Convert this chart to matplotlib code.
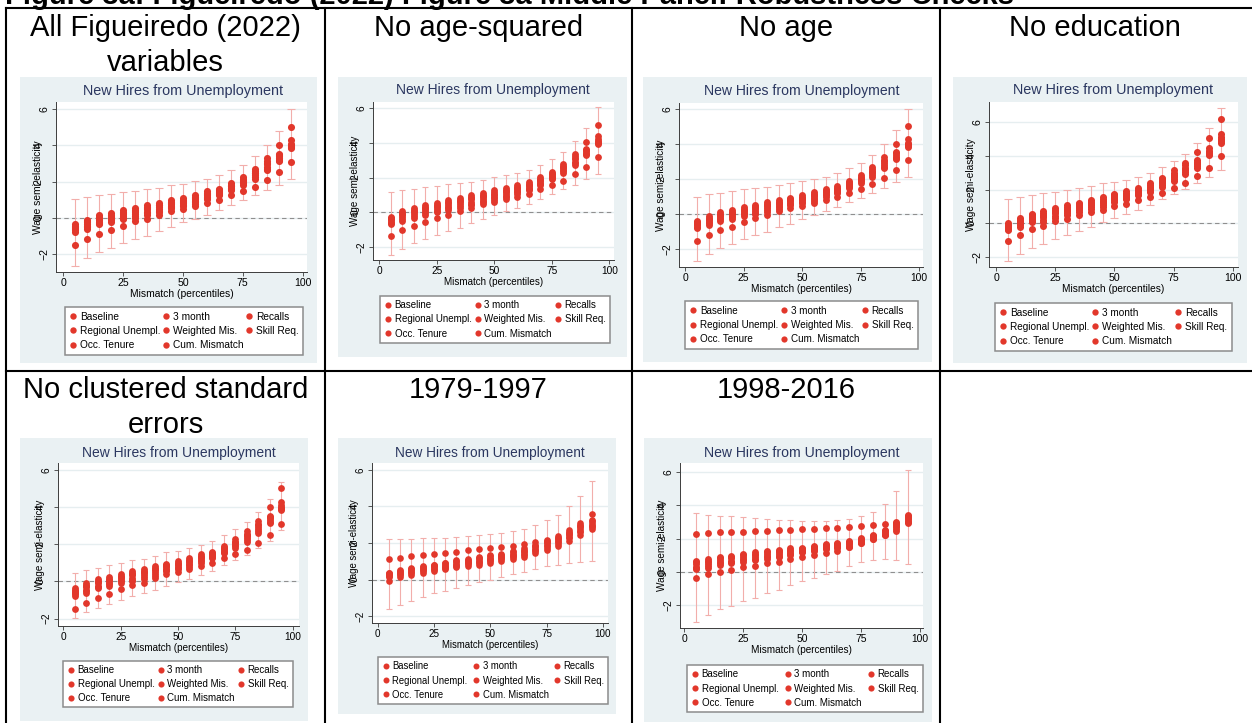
import numpy as np
import matplotlib
matplotlib.use("Agg")
import matplotlib.pyplot as plt
from matplotlib.lines import Line2D
from matplotlib.patches import Rectangle
from matplotlib.transforms import ScaledTranslation

plt.rcParams['font.family'] = ['Liberation Sans', 'DejaVu Sans']

W, H = 1252, 723

# mismatch percentiles on the x axis
pct = [5, 10, 15, 20, 25, 30, 35, 40, 45, 50, 55, 60, 65, 70, 75, 80, 85, 90, 95]
x_ticks = [0, 25, 50, 75, 100]
y_ticks = [-2, 0, 2, 4, 6]
# legend labels, in the row order they show in the Stata legend
series_names = ["Baseline", "3 month", "Recalls",
                "Regional Unempl.", "Weighted Mis.", "Skill Req.",
                "Occ. Tenure", "Cum. Mismatch"]
cell_titles = [["All Figueiredo (2022)", "variables"], ["No age-squared"], ["No age"], ["No education"],
               ["No clustered standard", "errors"], ["1979-1997"], ["1998-2016"]]

# --- all Figueiredo variables (also used for "No age" and "No clustered SE") ---
full_baseline = [-0.70, -0.45, -0.22, -0.08, 0.08, 0.20, 0.34, 0.49, 0.66, 0.80, 0.95, 1.15, 1.35, 1.65, 1.95, 2.35, 2.80, 3.30, 3.95]
full_3month = [-0.45, -0.20, 0.03, 0.15, 0.30, 0.45, 0.58, 0.72, 0.86, 0.98, 1.16, 1.36, 1.52, 1.82, 2.15, 2.58, 3.12, 3.54, 4.30]
full_recalls = [-0.57, -0.32, -0.10, 0.05, 0.20, 0.33, 0.47, 0.62, 0.77, 0.88, 1.05, 1.26, 1.43, 1.73, 2.05, 2.45, 2.95, 3.42, 4.02]
full_regional = [-0.62, -0.50, -0.28, -0.15, 0.00, 0.10, 0.24, 0.40, 0.60, 0.72, 0.88, 1.10, 1.30, 1.60, 1.90, 2.25, 2.72, 3.22, 3.90]
full_weighted = [-0.80, -0.61, -0.37, -0.24, -0.09, 0.00, 0.13, 0.31, 0.54, 0.65, 0.78, 1.02, 1.24, 1.52, 1.80, 2.13, 2.63, 3.15, 3.87]
full_skill = [-0.50, -0.26, -0.03, 0.10, 0.25, 0.40, 0.52, 0.68, 0.82, 0.94, 1.10, 1.32, 1.48, 1.78, 2.10, 2.50, 3.05, 3.48, 4.10]
full_tenure = [-1.50, -1.17, -0.89, -0.69, -0.43, -0.20, -0.06, 0.17, 0.39, 0.50, 0.65, 0.83, 0.98, 1.24, 1.46, 1.72, 2.09, 2.52, 3.11]
full_cum = [-0.37, -0.11, 0.13, 0.26, 0.41, 0.54, 0.69, 0.83, 0.96, 1.09, 1.28, 1.46, 1.61, 1.93, 2.26, 2.72, 3.28, 4.00, 5.02]
full_lo = [-2.65, -2.24, -1.91, -1.69, -1.41, -1.19, -1.02, -0.74, -0.52, -0.24, -0.06, 0.17, 0.41, 0.72, 0.96, 1.24, 1.52, 1.83, 2.13]
full_hi = [1.02, 1.15, 1.24, 1.33, 1.43, 1.50, 1.57, 1.67, 1.80, 1.89, 2.02, 2.15, 2.35, 2.65, 2.94, 3.41, 4.02, 4.81, 6.00]
noclus_lo = [-1.97, -1.67, -1.44, -1.22, -0.99, -0.81, -0.63, -0.45, -0.23, -0.05, 0.13, 0.36, 0.57, 0.90, 1.13, 1.40, 1.80, 2.19, 2.75]
noclus_hi = [0.45, 0.63, 0.75, 0.86, 1.00, 1.13, 1.22, 1.38, 1.56, 1.65, 1.80, 1.97, 2.19, 2.51, 2.82, 3.20, 3.73, 4.43, 5.35]

# --- no age-squared ---
noage2_baseline = [-0.55, -0.28, -0.08, 0.07, 0.20, 0.33, 0.46, 0.62, 0.78, 0.90, 1.05, 1.22, 1.42, 1.70, 2.03, 2.45, 2.92, 3.42, 3.96]
noage2_3month = [-0.35, -0.05, 0.15, 0.30, 0.45, 0.58, 0.72, 0.86, 1.02, 1.15, 1.28, 1.45, 1.64, 1.93, 2.22, 2.68, 3.22, 3.67, 4.38]
noage2_recalls = [-0.45, -0.18, 0.02, 0.17, 0.32, 0.45, 0.60, 0.74, 0.90, 1.02, 1.16, 1.34, 1.52, 1.82, 2.12, 2.56, 3.08, 3.55, 4.10]
noage2_regional = [-0.60, -0.40, -0.20, -0.05, 0.10, 0.22, 0.35, 0.50, 0.68, 0.80, 0.96, 1.15, 1.35, 1.64, 1.98, 2.36, 2.82, 3.35, 4.05]
noage2_weighted = [-0.65, -0.50, -0.33, -0.17, 0.02, 0.12, 0.25, 0.40, 0.60, 0.69, 0.88, 1.08, 1.27, 1.56, 1.94, 2.27, 2.71, 3.29, 4.00]
noage2_skill = [-0.40, -0.12, 0.08, 0.22, 0.38, 0.52, 0.66, 0.80, 0.96, 1.08, 1.22, 1.40, 1.58, 1.88, 2.18, 2.62, 3.15, 3.60, 4.20]
noage2_tenure = [-1.35, -1.04, -0.77, -0.56, -0.33, -0.13, 0.06, 0.27, 0.50, 0.60, 0.75, 0.88, 1.08, 1.35, 1.58, 1.83, 2.19, 2.60, 3.19]
noage2_cum = [-0.27, 0.06, 0.25, 0.40, 0.56, 0.69, 0.83, 0.98, 1.13, 1.27, 1.40, 1.56, 1.75, 2.04, 2.33, 2.81, 3.38, 4.06, 5.06]
noage2_lo = [-2.48, -2.12, -1.77, -1.56, -1.29, -1.06, -0.88, -0.62, -0.40, -0.17, 0.06, 0.25, 0.50, 0.75, 1.08, 1.33, 1.60, 1.90, 2.23]
noage2_hi = [1.17, 1.31, 1.37, 1.44, 1.54, 1.62, 1.69, 1.77, 1.88, 2.02, 2.15, 2.29, 2.46, 2.75, 3.06, 3.48, 4.12, 4.88, 6.06]

# --- no education ---
noedu_baseline = [-0.30, 0.00, 0.25, 0.38, 0.58, 0.73, 0.90, 1.06, 1.20, 1.45, 1.60, 1.80, 2.05, 2.38, 2.72, 3.15, 3.50, 4.20, 4.95]
noedu_3month = [-0.08, 0.22, 0.47, 0.60, 0.80, 0.95, 1.12, 1.28, 1.44, 1.65, 1.80, 2.00, 2.26, 2.60, 3.00, 3.45, 3.74, 4.44, 5.27]
noedu_recalls = [-0.18, 0.12, 0.37, 0.50, 0.70, 0.85, 1.02, 1.18, 1.33, 1.55, 1.70, 1.90, 2.15, 2.48, 2.85, 3.30, 3.62, 4.30, 5.03]
noedu_regional = [-0.35, -0.10, 0.15, 0.22, 0.45, 0.60, 0.78, 0.94, 1.08, 1.35, 1.50, 1.72, 1.95, 2.28, 2.62, 3.05, 3.40, 4.12, 4.88]
noedu_weighted = [-0.42, -0.22, 0.08, 0.08, 0.32, 0.48, 0.67, 0.83, 0.97, 1.27, 1.43, 1.66, 1.86, 2.16, 2.50, 2.91, 3.29, 4.04, 4.79]
noedu_skill = [-0.25, 0.05, 0.30, 0.45, 0.64, 0.80, 0.96, 1.12, 1.26, 1.50, 1.65, 1.85, 2.10, 2.42, 2.78, 3.22, 3.56, 4.25, 5.10]
noedu_tenure = [-1.03, -0.67, -0.36, -0.16, 0.12, 0.28, 0.48, 0.67, 0.81, 1.03, 1.17, 1.35, 1.54, 1.82, 2.10, 2.40, 2.81, 3.29, 4.00]
noedu_cum = [0.00, 0.32, 0.57, 0.71, 0.91, 1.07, 1.23, 1.39, 1.54, 1.76, 1.90, 2.10, 2.36, 2.71, 3.15, 3.60, 4.24, 5.07, 6.18]
noedu_lo = [-2.24, -1.84, -1.50, -1.21, -0.95, -0.71, -0.48, -0.22, 0.05, 0.30, 0.55, 0.78, 1.08, 1.41, 1.72, 2.02, 2.36, 2.75, 3.15]
noedu_hi = [1.43, 1.54, 1.66, 1.78, 1.88, 1.98, 2.08, 2.22, 2.36, 2.46, 2.59, 2.75, 2.99, 3.33, 3.68, 4.14, 4.77, 5.66, 6.87]

# --- 1979-1997 ---
early_baseline = [0.24, 0.35, 0.48, 0.57, 0.66, 0.76, 0.87, 0.95, 1.03, 1.13, 1.23, 1.35, 1.48, 1.68, 1.90, 2.12, 2.42, 2.75, 3.00]
early_3month = [0.38, 0.51, 0.64, 0.73, 0.82, 0.93, 1.06, 1.15, 1.24, 1.33, 1.42, 1.55, 1.70, 1.88, 2.10, 2.30, 2.60, 3.00, 3.25]
early_recalls = [0.30, 0.42, 0.55, 0.63, 0.72, 0.82, 0.94, 1.02, 1.10, 1.20, 1.30, 1.42, 1.56, 1.76, 1.98, 2.20, 2.50, 2.85, 3.10]
early_regional = [0.18, 0.30, 0.42, 0.52, 0.60, 0.70, 0.80, 0.88, 0.96, 1.06, 1.16, 1.28, 1.40, 1.60, 1.82, 2.05, 2.35, 2.68, 2.95]
early_weighted = [0.12, 0.25, 0.36, 0.46, 0.55, 0.65, 0.76, 0.83, 0.90, 1.00, 1.10, 1.22, 1.34, 1.55, 1.75, 1.95, 2.25, 2.60, 2.90]
early_skill = [0.34, 0.46, 0.59, 0.68, 0.77, 0.88, 1.00, 1.08, 1.17, 1.27, 1.36, 1.48, 1.62, 1.82, 2.04, 2.26, 2.55, 2.92, 3.18]
early_tenure = [-0.07, 0.15, 0.27, 0.38, 0.46, 0.57, 0.68, 0.75, 0.82, 0.93, 1.04, 1.15, 1.24, 1.46, 1.64, 1.82, 2.10, 2.43, 2.79]
early_cum = [1.12, 1.20, 1.28, 1.37, 1.42, 1.46, 1.53, 1.59, 1.66, 1.72, 1.79, 1.86, 1.93, 2.06, 2.19, 2.37, 2.70, 3.10, 3.61]
early_lo = [-1.62, -1.40, -1.15, -0.95, -0.75, -0.62, -0.45, -0.30, -0.12, 0.00, 0.12, 0.28, 0.42, 0.58, 0.72, 0.82, 0.90, 0.98, 1.00]
early_hi = [2.20, 2.22, 2.24, 2.26, 2.28, 2.30, 2.34, 2.38, 2.42, 2.48, 2.55, 2.65, 2.78, 2.98, 3.25, 3.55, 4.00, 4.58, 5.37]

# --- 1998-2016 ---
late_baseline = [0.30, 0.45, 0.58, 0.68, 0.78, 0.88, 0.97, 1.05, 1.15, 1.25, 1.36, 1.47, 1.55, 1.66, 1.85, 2.08, 2.37, 2.78, 3.18]
late_3month = [0.64, 0.76, 0.90, 0.97, 1.07, 1.17, 1.25, 1.30, 1.41, 1.45, 1.55, 1.65, 1.75, 1.85, 2.01, 2.21, 2.51, 2.95, 3.35]
late_recalls = [0.48, 0.60, 0.74, 0.82, 0.92, 1.02, 1.10, 1.17, 1.27, 1.35, 1.45, 1.55, 1.64, 1.75, 1.92, 2.14, 2.44, 2.86, 3.26]
late_regional = [0.22, 0.35, 0.50, 0.60, 0.70, 0.80, 0.88, 0.97, 1.08, 1.20, 1.30, 1.42, 1.48, 1.58, 1.78, 2.02, 2.30, 2.70, 3.00]
late_weighted = [0.16, 0.24, 0.40, 0.50, 0.60, 0.70, 0.80, 0.90, 1.00, 1.17, 1.27, 1.37, 1.41, 1.50, 1.71, 1.97, 2.21, 2.60, 3.06]
late_skill = [0.56, 0.68, 0.82, 0.90, 1.00, 1.10, 1.18, 1.24, 1.34, 1.40, 1.50, 1.60, 1.70, 1.80, 1.96, 2.18, 2.48, 2.90, 3.30]
late_tenure = [-0.36, -0.16, 0.00, 0.12, 0.26, 0.36, 0.50, 0.60, 0.76, 0.88, 1.00, 1.15, 1.27, 1.50, 1.71, 1.97, 2.21, 2.47, 2.92]
late_cum = [2.29, 2.33, 2.37, 2.39, 2.41, 2.43, 2.47, 2.49, 2.53, 2.55, 2.59, 2.63, 2.65, 2.71, 2.75, 2.81, 2.89, 3.03, 3.42]
late_lo = [-3.02, -2.62, -2.25, -2.05, -1.75, -1.57, -1.25, -1.10, -0.80, -0.54, -0.40, -0.16, 0.06, 0.36, 0.56, 0.70, 0.76, 0.70, 0.46]
late_hi = [3.54, 3.44, 3.38, 3.34, 3.28, 3.22, 3.16, 3.14, 3.10, 3.06, 3.06, 3.06, 3.10, 3.20, 3.36, 3.62, 4.06, 4.89, 6.14]

full_set = [full_baseline, full_3month, full_recalls, full_regional, full_weighted, full_skill, full_tenure, full_cum]
noage2_set = [noage2_baseline, noage2_3month, noage2_recalls, noage2_regional, noage2_weighted, noage2_skill, noage2_tenure, noage2_cum]
noedu_set = [noedu_baseline, noedu_3month, noedu_recalls, noedu_regional, noedu_weighted, noedu_skill, noedu_tenure, noedu_cum]
early_set = [early_baseline, early_3month, early_recalls, early_regional, early_weighted, early_skill, early_tenure, early_cum]
late_set = [late_baseline, late_3month, late_recalls, late_regional, late_weighted, late_skill, late_tenure, late_cum]

RED = '#e2372b'
CI_COL = '#f2aeab'
BG = '#eaf1f3'
TITLE_COL = '#2b3760'

# layout of each cell, in pixels: background box, plot box (l, t, r, b), axis limits,
# panel-title centre and legend box
panels = [
    dict(data=full_set, lo=full_lo, hi=full_hi, bg=(20, 77, 317, 363), box=(56, 102, 307, 272),
         xlim=(-3.0, 101.8), ylim=(-3.0, 6.4), tpos=(183, 91), leg=(65, 308, 303, 354)),
    dict(data=noage2_set, lo=noage2_lo, hi=noage2_hi, bg=(338, 77, 627, 357), box=(373, 102, 614, 260),
         xlim=(-2.7, 102.0), ylim=(-2.75, 6.36), tpos=(493, 90), leg=(380, 297, 610, 342)),
    dict(data=full_set, lo=full_lo, hi=full_hi, bg=(643, 77, 932, 362), box=(679, 103, 923, 267),
         xlim=(-2.6, 101.6), ylim=(-3.0, 6.36), tpos=(802, 91), leg=(685, 302, 918, 348)),
    dict(data=noedu_set, lo=noedu_lo, hi=noedu_hi, bg=(953, 77, 1247, 363), box=(989, 102, 1238, 267),
         xlim=(-3.0, 102.2), ylim=(-2.6, 7.2), tpos=(1113, 90), leg=(995, 303, 1232, 351)),
    dict(data=full_set, lo=noclus_lo, hi=noclus_hi, bg=(20, 438, 308, 721), box=(58, 463, 299, 626),
         xlim=(-2.3, 102.8), ylim=(-2.4, 6.38), tpos=(179, 453), leg=(63, 661, 293, 707)),
    dict(data=early_set, lo=early_lo, hi=early_hi, bg=(338, 438, 616, 714), box=(372, 463, 608, 623),
         xlim=(-2.5, 102.3), ylim=(-2.38, 6.38), tpos=(490, 453), leg=(378, 658, 608, 703)),
    dict(data=late_set, lo=late_lo, hi=late_hi, bg=(644, 438, 932, 722), box=(680, 463, 923, 628),
         xlim=(-1.8, 101.3), ylim=(-3.39, 6.56), tpos=(802, 453), leg=(687, 665, 923, 712)),
]

# cell title centres (x) and baselines (y) in pixels
title_x = [165.5, 478.5, 786, 1095, 165.5, 478.5, 786]
title_y = [36, 36, 36, 36, 398, 398, 398]


def fx(px):
    return px / W


def fy(py):
    return 1 - py / H


fig = plt.figure(figsize=(W / 100, H / 100), dpi=100)
fig.patch.set_facecolor('white')

# cut-off document heading above the table
fig.text(fx(5), fy(4), "Figure 3a: Figueiredo (2022) Figure 3a Middle Panel: Robustness Checks",
         ha='left', va='baseline', fontsize=21, fontweight='bold')

# table rules
for yy in [8, 371]:
    fig.add_artist(Line2D([fx(6), fx(1252)], [fy(yy), fy(yy)], transform=fig.transFigure, color='black', lw=1.5))
for xx in [6, 325, 632, 940]:
    fig.add_artist(Line2D([fx(xx), fx(xx)], [fy(8), fy(723)], transform=fig.transFigure, color='black', lw=1.5))

for i, lines in enumerate(cell_titles):
    for j, line in enumerate(lines):
        fig.text(fx(title_x[i]), fy(title_y[i] + 35 * j), line, ha='center', va='baseline', fontsize=21)

legend_order = [0, 3, 6, 1, 4, 7, 2, 5]  # matplotlib fills columns first

for p in panels:
    bx0, by0, bx1, by1 = p["bg"]
    fig.add_artist(Rectangle((fx(bx0), fy(by1)), (bx1 - bx0) / W, (by1 - by0) / H,
                             transform=fig.transFigure, facecolor=BG, edgecolor='none', zorder=-5))
    l, t, r, b = p["box"]
    s = (r - l) / 251.0
    ax = fig.add_axes([fx(l), fy(b), (r - l) / W, (b - t) / H])
    ax.set_facecolor('white')

    base = np.array(p["data"][0])
    lo = np.array(p["lo"])
    hi = np.array(p["hi"])
    ax.errorbar(pct, base, yerr=[base - lo, hi - base], fmt='none', ecolor=CI_COL,
                elinewidth=0.8, capsize=2.6 * s, capthick=0.8, zorder=2)
    for vals in p["data"]:
        ax.plot(pct, vals, ls='none', marker='o', ms=5.1 * s, color=RED, mew=0, zorder=3)

    ax.axhline(0, color='#8f8f8f', lw=0.8, ls=(0, (4, 3)), zorder=1.5)
    ax.set_xlim(*p["xlim"])
    ax.set_ylim(*p["ylim"])
    ax.set_xticks(x_ticks)
    ax.set_yticks(y_ticks)
    ax.grid(axis='y', color='#e6eef0', lw=1.0)
    ax.set_axisbelow(True)
    for side in ['top', 'right']:
        ax.spines[side].set_visible(False)
    for side in ['left', 'bottom']:
        ax.spines[side].set_color('#3c3c3c')
        ax.spines[side].set_linewidth(0.7)
    ax.tick_params(axis='both', direction='out', length=3, width=0.6, color='#3c3c3c',
                   labelsize=7.6 * s, pad=1.5)
    ax.tick_params(axis='y', labelrotation=90)
    for lab in ax.get_yticklabels():
        lab.set_va('center')
    # Stata export quirk: the 0/2/4 labels sit further left, over the axis title
    shift = ScaledTranslation(-6 / 100, 0, fig.dpi_scale_trans)
    for tick, val in zip(ax.yaxis.get_major_ticks(), y_ticks):
        if val in (0, 2, 4):
            tick.label1.set_transform(tick.label1.get_transform() + shift)

    ax.set_xlabel("Mismatch (percentiles)", fontsize=7.4 * s)
    ax.set_ylabel("Wage semi-elasticity", fontsize=7.4 * s)
    ax.xaxis.set_label_coords(0.5, -17.0 / (b - t))
    ax.yaxis.set_label_coords(-13.0 / (r - l), 0.5)

    tx, ty = p["tpos"]
    fig.text(fx(tx), fy(ty), "New Hires from Unemployment", ha='center', va='center',
             fontsize=10.4 * s, color=TITLE_COL)

    handles = [Line2D([], [], ls='none', marker='o', ms=4.6 * s, color=RED, mew=0) for _ in series_names]
    lx0, ly0, lx1, ly1 = p["leg"]
    leg = ax.legend([handles[k] for k in legend_order], [series_names[k] for k in legend_order],
                    ncol=3, loc='center', mode='expand',
                    bbox_to_anchor=(fx(lx0), fy(ly1), (lx1 - lx0) / W, (ly1 - ly0) / H),
                    bbox_transform=fig.transFigure, fontsize=7.3 * s, frameon=True, fancybox=False,
                    edgecolor='#8c8c8c', framealpha=1, borderpad=0.45, labelspacing=0.42,
                    handlelength=0.7, handletextpad=0.35, columnspacing=0.3, borderaxespad=0)
    leg.get_frame().set_linewidth(1.1)

fig.savefig("out.png", dpi=100)
